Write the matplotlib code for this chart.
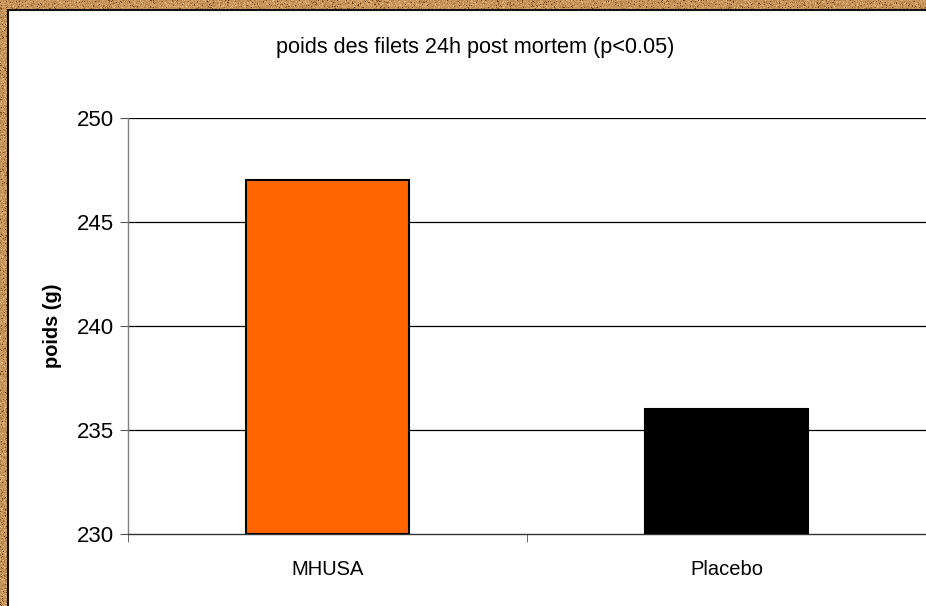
import numpy as np
import matplotlib
matplotlib.use("Agg")
import matplotlib.pyplot as plt
from matplotlib.patches import Rectangle

plt.rcParams['font.family'] = ['Liberation Sans', 'DejaVu Sans']

categories = ["MHUSA", "Placebo"]
poids = [247, 236]
bar_colors = ["#FF6600", "#000000"]
y_ticks = [230, 235, 240, 245, 250]
title = "poids des filets 24h post mortem (p<0.05)"
y_label = "poids (g)"

W, H = 926, 606
fig = plt.figure(figsize=(W / 100, H / 100), dpi=100)

# cork-like frame texture behind the white panel
rng = np.random.default_rng(7)
base = np.array([0.78, 0.58, 0.36])
noise = rng.normal(0, 0.06, (H, W, 1))
speck = rng.random((H, W, 1))
tex = base + noise * np.array([1.0, 0.9, 0.7])
tex = np.where(speck > 0.95, tex + 0.12, tex)
tex = np.where(speck < 0.06, tex - 0.28, tex)
tex = np.clip(tex, 0, 1)
fig.figimage(tex, xo=0, yo=0, zorder=0)

# white panel with a dark edge on its top and left
fig.patches.append(Rectangle((8 / W, -0.05), 1.1, (H - 10) / H + 0.05,
                             transform=fig.transFigure, facecolor="white",
                             edgecolor="#111111", linewidth=1.5, zorder=1))

ax = fig.add_axes([128 / W, 72 / H, (W - 128) / W, 416 / H], zorder=2)
ax.patch.set_alpha(0)

x = np.arange(len(categories))
ax.bar(x, [p - y_ticks[0] for p in poids], bottom=y_ticks[0], width=0.41,
       color=bar_colors, edgecolor="black", linewidth=1.5, zorder=3)

ax.set_xlim(-0.5, len(categories) - 0.5)
ax.set_ylim(y_ticks[0], y_ticks[-1])
ax.set_yticks(y_ticks)
ax.set_yticklabels([str(v) for v in y_ticks], fontsize=16)
for v in y_ticks[1:]:
    ax.axhline(v, color="black", linewidth=0.9, zorder=1)

ax.set_xticks(x)
ax.set_xticklabels(categories, fontsize=14.5)
ax.set_xticks(np.arange(-0.5, len(categories)), minor=True)
ax.tick_params(axis="x", which="major", length=0, pad=19)
ax.tick_params(axis="x", which="minor", length=6, direction="out", color="#555555")
ax.tick_params(axis="y", length=6, direction="out", color="#555555", pad=4)

for s in ("top", "right"):
    ax.spines[s].set_visible(False)
ax.spines["left"].set_color("#808080")
ax.spines["bottom"].set_color("#333333")
ax.spines["left"].set_linewidth(1.0)
ax.spines["bottom"].set_linewidth(1.0)

ax.set_ylabel(y_label, fontsize=14.4, fontweight="bold", labelpad=11)
fig.text(475 / W, 1 - 48 / H, title, ha="center", va="center", fontsize=15.6, zorder=3)

fig.savefig("out.png", dpi=100)
